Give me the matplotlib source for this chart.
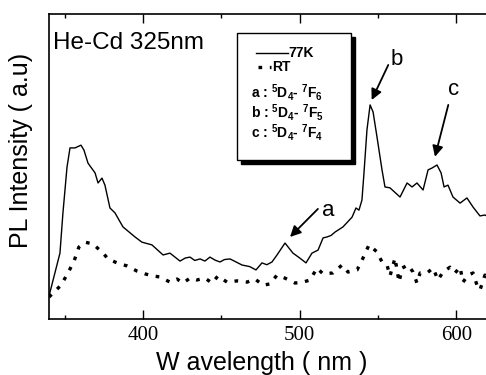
import matplotlib.pyplot as plt
from matplotlib.patches import Rectangle

# PL spectra of the Tb-doped film, He-Cd 325 nm excitation
wl_77k = [340.0, 347.0, 348.9, 351.5, 353.4, 356.6, 360.4, 362.3, 364.9, 369.4,
          371.3, 373.8, 375.7, 378.9, 382.1, 387.2, 394.9, 399.3, 405.7, 412.8,
          417.2, 420.4, 423.6, 427.0, 430.0, 433.0, 436.4, 439.5, 442.7, 446.0,
          449.1, 452.0, 455.5, 459.0, 463.2, 468.0, 472.1, 475.9, 479.0, 482.3,
          485.5, 490.6, 495.7, 500.0, 504.0, 507.8, 511.7, 514.9, 517.4, 520.0,
          522.5, 527.6, 533.4, 535.9, 537.8, 539.7, 541.0, 542.9, 544.9, 546.8,
          549.3, 552.5, 554.4, 557.6, 564.0, 568.5, 571.7, 574.8, 578.7, 581.9,
          584.4, 587.6, 590.2, 592.1, 594.6, 597.8, 602.3, 606.7, 610.6, 615.0,
          618.2, 622.0]
int_77k = [0.75, 2.16, 3.48, 4.98, 5.61, 5.61, 5.70, 5.54, 5.11, 4.79,
           4.46, 4.62, 4.39, 3.64, 3.48, 3.02, 2.69, 2.52, 2.43, 2.10,
           2.16, 2.03, 1.90, 2.00, 2.03, 1.92, 1.97, 1.90, 2.03, 1.93,
           1.87, 1.95, 1.97, 1.88, 1.77, 1.72, 1.61, 1.84, 1.78, 1.87,
           2.10, 2.49, 2.16, 2.00, 1.84, 2.16, 2.26, 2.66, 2.69, 2.74,
           2.85, 3.02, 3.34, 3.64, 3.57, 3.90, 4.79, 6.20, 7.02, 6.79,
           5.97, 4.89, 4.33, 4.30, 4.00, 4.46, 4.33, 4.46, 4.23, 4.89,
           4.95, 5.05, 4.79, 4.33, 4.39, 4.00, 3.80, 3.97, 3.67, 3.38,
           3.41, 3.30]

wl_rt = [340.0, 347.7, 352.1, 356.0, 359.1, 363.0, 368.1, 374.5, 377.7, 383.4,
         389.8, 396.2, 401.3, 406.4, 410.8, 417.2, 421.7, 425.5, 430.0, 434.4,
         439.6, 444.0, 447.8, 453.6, 460.0, 466.4, 471.5, 476.6, 481.0, 485.5,
         490.6, 497.0, 502.1, 506.6, 511.0, 514.9, 521.2, 527.0, 530.8, 536.6,
         540.4, 544.2, 549.3, 552.5, 555.7, 557.6, 560.8, 563.4, 565.3, 569.1,
         572.3, 574.8, 576.8, 581.2, 585.1, 588.2, 591.4, 595.9, 599.1, 602.3,
         604.2, 607.4, 610.6, 613.1, 615.0, 618.2, 622.0]
int_rt = [0.72, 1.11, 1.51, 1.90, 2.36, 2.52, 2.46, 2.16, 1.97, 1.84,
          1.74, 1.57, 1.48, 1.41, 1.38, 1.21, 1.31, 1.18, 1.34, 1.28,
          1.34, 1.18, 1.41, 1.21, 1.25, 1.21, 1.31, 1.11, 1.15, 1.44,
          1.34, 1.18, 1.21, 1.28, 1.67, 1.48, 1.51, 1.77, 1.54, 1.61,
          2.00, 2.43, 2.20, 1.87, 1.77, 1.41, 2.00, 1.21, 1.67, 1.77,
          1.54, 1.18, 1.51, 1.51, 1.67, 1.28, 1.54, 1.70, 1.51, 1.70,
          1.21, 1.44, 1.51, 1.11, 0.95, 1.44, 1.30]

# peak labels: (label, arrow tip, arrow tail, text position)
peak_labels = ["a", "b", "c"]
peak_tips = [(493.8, 2.69), (545.9, 7.18), (586.3, 5.32)]
peak_tails = [(511.6, 3.61), (556.5, 8.33), (594.8, 7.02)]
peak_text = [(518.0, 3.57), (562.1, 8.52), (598.0, 7.51)]

transitions = [r"a : $^{5}$D$_{4}$- $^{7}$F$_{6}$",
               r"b : $^{5}$D$_{4}$- $^{7}$F$_{5}$",
               r"c : $^{5}$D$_{4}$- $^{7}$F$_{4}$"]

plt.rcParams['font.family'] = ['Liberation Sans', 'DejaVu Sans']
plt.rcParams['mathtext.fontset'] = 'custom'
plt.rcParams['mathtext.rm'] = 'Liberation Sans:bold'
plt.rcParams['mathtext.default'] = 'regular'

dotted = (0, (1.1, 2.3))

fig = plt.figure(figsize=(4.86, 3.75), dpi=100)
ax = fig.add_axes([0.1008, 0.1493, 0.919, 0.8133])

ax.plot(wl_77k, int_77k, color='black', lw=1.0)
ax.plot(wl_rt, int_rt, color='black', lw=2.4, linestyle=dotted)

ax.set_xlim(340, 625)
ax.set_ylim(0, 10)

for s in ax.spines.values():
    s.set_linewidth(1.2)

ax.set_xticks([400, 500, 600])
ax.set_xticks([350, 450, 550], minor=True)
ax.set_yticks([])
ax.tick_params(axis='x', which='both', direction='in', top=True, bottom=True, width=1.0)
ax.tick_params(axis='x', which='major', length=6.5, pad=5)
ax.tick_params(axis='x', which='minor', length=3.2)
for lab in ax.get_xticklabels():
    lab.set_family('Liberation Serif')
    lab.set_fontsize(15)

ax.set_xlabel("W avelength ( nm )", fontsize=18)
ax.xaxis.set_label_coords(0.477, -0.105)
ax.set_ylabel("PL Intensity ( a.u)", fontsize=18)
ax.yaxis.label.set_va('center')
ax.yaxis.set_label_coords(-0.062, 0.554)

ax.text(0.009, 0.905, "He-Cd 325nm", transform=ax.transAxes, fontsize=17.5,
        ha='left', va='center')

# arrows marking the Tb3+ transitions
for lab, tip, tail, pos in zip(peak_labels, peak_tips, peak_tails, peak_text):
    ax.annotate("", xy=tip, xytext=tail,
                arrowprops=dict(arrowstyle='-|>', color='black', lw=1.3,
                                mutation_scale=16, shrinkA=0, shrinkB=0))
    ax.text(pos[0], pos[1], lab, fontsize=16, ha='center', va='center')

# legend box with drop shadow
x0, x1, y0, y1 = 0.421, 0.676, 0.521, 0.938
ax.add_patch(Rectangle((x0 + 0.009, y0 - 0.013), x1 - x0, y1 - y0,
                       transform=ax.transAxes, facecolor='black', edgecolor='black',
                       zorder=5, clip_on=False))
ax.add_patch(Rectangle((x0, y0), x1 - x0, y1 - y0, transform=ax.transAxes,
                       facecolor='white', edgecolor='black', lw=1.0, zorder=6,
                       clip_on=False))
ax.plot([0.4635, 0.5352], [0.872, 0.872], transform=ax.transAxes, color='black',
        lw=1.0, zorder=7)
ax.text(0.537, 0.872, "77K", transform=ax.transAxes, fontsize=10,
        fontweight='bold', ha='left', va='center', zorder=7)
ax.plot([0.468, 0.498], [0.826, 0.826], transform=ax.transAxes, color='black',
        lw=2.4, linestyle=dotted, zorder=7)
ax.text(0.499, 0.826, "RT", transform=ax.transAxes, fontsize=10,
        fontweight='bold', ha='left', va='center', zorder=7)
for i, t in enumerate(transitions):
    ax.text(0.452, 0.744 - i * 0.067, t, transform=ax.transAxes, fontsize=10,
            fontweight='bold', ha='left', va='center', zorder=7)

fig.savefig("out.png", dpi=100)
